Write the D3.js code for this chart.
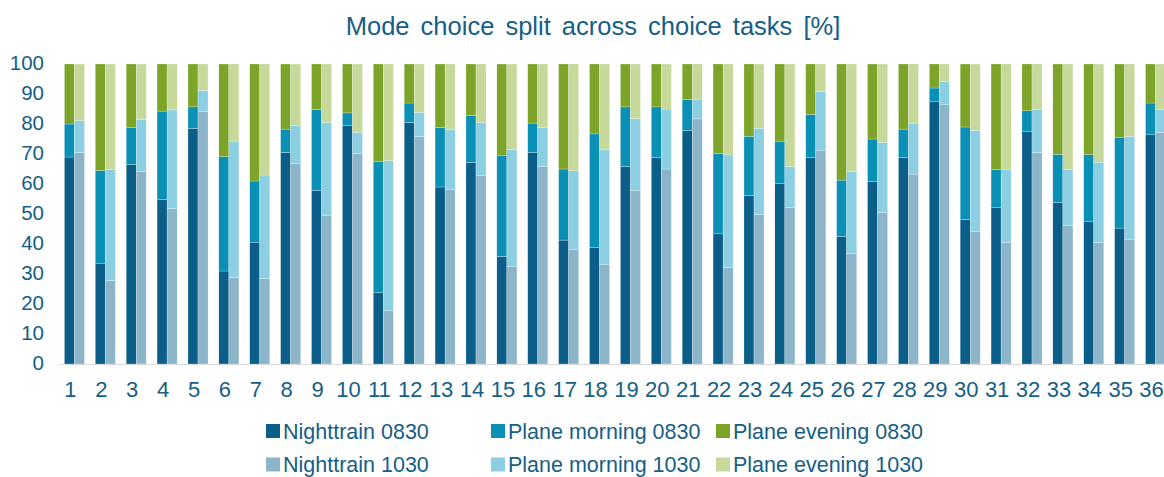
<!DOCTYPE html>
<html>
<head>
<meta charset="utf-8">
<script src="https://cdn.jsdelivr.net/npm/d3@7"></script>
<style>
  body { margin: 0; background: #fff; }
  svg { display: block; font-family: "Liberation Sans", Arial, sans-serif; }
</style>
</head>
<body>
<svg id="chart" width="1164" height="477"></svg>
<script>
var tasks = d3.range(1, 37).map(String);
var yTicks = [0, 10, 20, 30, 40, 50, 60, 70, 80, 90, 100];

// shares in % per choice task, wave 0830
var nighttrain0830 = [69.0,33.4,66.5,54.9,78.5,31.0,40.6,70.5,57.8,79.4,23.8,80.5,59.0,67.2,35.8,70.5,41.3,38.9,65.8,68.9,77.9,43.4,56.2,60.1,68.9,42.5,60.9,68.9,87.4,48.2,52.1,77.4,53.8,47.4,45.3,76.4];
var morning0830 = [11.0,31.1,12.3,29.4,7.2,38.1,20.4,7.8,27.0,4.3,43.7,6.5,19.8,15.7,33.6,9.8,23.7,37.8,19.9,16.8,10.2,26.8,19.7,14.2,14.3,18.8,14.1,9.4,4.6,30.8,12.7,7.0,16.1,22.4,30.1,10.6];
var evening0830 = [20.0,35.5,21.2,15.7,14.3,30.9,39.0,21.7,15.2,16.3,32.5,13.0,21.2,17.1,30.6,19.7,35.0,23.3,14.3,14.3,11.9,29.8,24.1,25.7,16.8,38.7,25.0,21.7,8.0,21.0,35.2,15.6,30.1,30.2,24.6,13.0];

// wave 1030
var nighttrain1030 = [70.5,27.8,64.1,51.8,84.1,28.8,28.5,66.9,49.4,70.2,17.8,75.8,58.1,62.8,32.4,65.8,38.1,33.2,57.8,65.0,81.7,32.1,49.9,52.1,71.3,36.9,50.5,63.3,86.4,44.1,40.5,70.5,46.2,40.5,41.4,77.2];
var morning1030 = [10.6,37.1,17.4,32.9,7.1,45.5,34.5,12.5,31.1,6.9,50.0,8.1,20.1,17.7,39.0,13.1,26.3,38.2,24.0,20.0,6.6,37.6,28.7,13.7,19.5,27.2,23.4,17.0,7.7,33.8,24.4,14.3,18.7,26.8,34.5,7.6];
var evening1030 = [18.9,35.1,18.5,15.3,8.8,25.7,37.0,20.6,19.5,22.9,32.2,16.1,21.8,19.5,28.6,21.1,35.6,28.6,18.2,15.0,11.7,30.3,21.4,34.2,9.2,35.9,26.1,19.7,5.9,22.1,35.1,15.2,35.1,32.7,24.1,15.2];

var waves = ["0830", "1030"];
var modes = ["Nighttrain", "Plane morning", "Plane evening"];
var colors = {
  "0830": ["#0a5e87", "#0a8fb5", "#7ba428"],
  "1030": ["#8cb5c9", "#8dcfe2", "#c6d99a"]
};
var textColor = "#155e87";

var svg = d3.select("#chart");
var plotTop = 64, plotBottom = 364, plotLeft = 59, plotRight = 1171;

var x = d3.scaleBand().domain(tasks).range([plotLeft, plotRight]).paddingInner(0.35).paddingOuter(0.175);
var xWave = d3.scaleBand().domain(waves).range([0, x.bandwidth()]);
var y = d3.scaleLinear().domain([0, 100]).range([plotBottom, plotTop]);

function rows(n, m, e) {
  return tasks.map(function (t, i) { return { task: t, n: n[i], m: m[i], e: e[i] }; });
}
var data = {
  "0830": rows(nighttrain0830, morning0830, evening0830),
  "1030": rows(nighttrain1030, morning1030, evening1030)
};
var stack = d3.stack().keys(["n", "m", "e"]);

// title
svg.append("text")
  .attr("x", 593).attr("y", 34.5)
  .attr("text-anchor", "middle")
  .attr("font-size", 25.5)
  .attr("word-spacing", 4)
  .attr("fill", textColor)
  .text("Mode choice split across choice tasks [%]");

// bars
waves.forEach(function (w) {
  var series = stack(data[w]);
  svg.append("g").selectAll("g")
    .data(series).enter().append("g")
    .attr("fill", function (d, i) { return colors[w][i]; })
    .selectAll("rect")
    .data(function (d) { return d; }).enter().append("rect")
    .attr("x", function (d) { return x(d.data.task) + xWave(w); })
    .attr("width", xWave.bandwidth())
    .attr("y", function (d) { return y(d[1]); })
    .attr("height", function (d) { return y(d[0]) - y(d[1]); })
    .attr("stroke", "#fff").attr("stroke-width", 0.4).attr("stroke-opacity", 0.6);
});

// baseline
svg.append("line")
  .attr("x1", plotLeft).attr("x2", plotRight)
  .attr("y1", plotBottom + 0.5).attr("y2", plotBottom + 0.5)
  .attr("stroke", "#d9d9d9").attr("stroke-width", 1);

// axes
var yAxis = d3.axisLeft(y).tickValues(yTicks).tickSize(0).tickPadding(0);
var gy = svg.append("g").attr("transform", "translate(44,-1.5)").call(yAxis);
gy.select(".domain").remove();
gy.selectAll("text").attr("font-size", 20.5).attr("fill", textColor)
  .attr("font-family", "Liberation Sans, Arial, sans-serif");

var xAxis = d3.axisBottom(x).tickSize(0).tickPadding(0);
var gx = svg.append("g").attr("transform", "translate(-4,381)").call(xAxis);
gx.select(".domain").remove();
gx.selectAll("text").attr("font-size", 22).attr("fill", textColor)
  .attr("font-family", "Liberation Sans, Arial, sans-serif");

// legend
var legendCols = [266, 491, 716];
var legendRows = [438.5, 472];
waves.forEach(function (w, r) {
  modes.forEach(function (m, c) {
    var g = svg.append("g").attr("transform", "translate(" + legendCols[c] + "," + legendRows[r] + ")");
    g.append("rect").attr("x", 0).attr("y", -14.5).attr("width", 14).attr("height", 14)
      .attr("fill", colors[w][c]);
    g.append("text").attr("x", 17).attr("y", 0)
      .attr("font-size", 21.5).attr("fill", textColor)
      .text(m + " " + w);
  });
});
</script>
</body>
</html>
